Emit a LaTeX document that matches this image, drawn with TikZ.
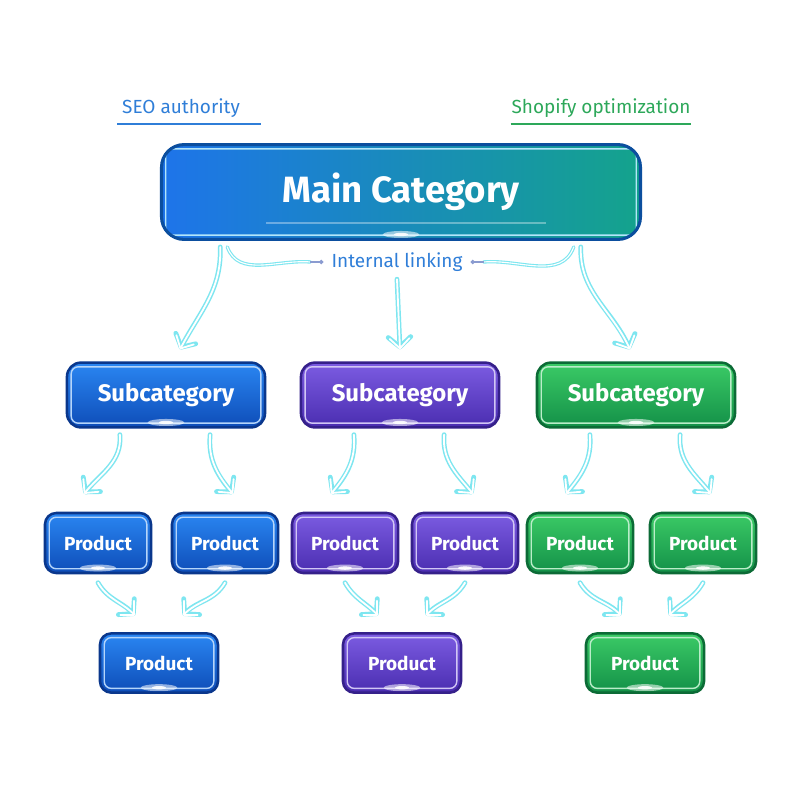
\documentclass[tikz,border=0pt]{standalone}
\usepackage{fontspec}
\setmainfont{Fira Sans}
\usepackage{tikz}
\usetikzlibrary{arrows.meta,positioning,calc}
\definecolor{seoBlue}{HTML}{2F7ED8}
\definecolor{shopGreen}{HTML}{2DA85A}
\definecolor{linkCyan}{HTML}{7EE6F0}
\definecolor{linkGrey}{HTML}{8A9BD0}
\definecolor{blueTop}{HTML}{2A86F2}
\definecolor{blueBot}{HTML}{0E4DB8}
\definecolor{blueEdge}{HTML}{0A378C}
\definecolor{purpTop}{HTML}{7C5CE2}
\definecolor{purpBot}{HTML}{4A2DB0}
\definecolor{purpEdge}{HTML}{35208A}
\definecolor{greenTop}{HTML}{3BCB66}
\definecolor{greenBot}{HTML}{139048}
\definecolor{greenEdge}{HTML}{0C6B36}
\definecolor{mainLeft}{HTML}{1E74EA}
\definecolor{mainRight}{HTML}{14A38C}
\definecolor{mainEdge}{HTML}{0B4E9E}

\tikzset{
  boxdeco/.style={path picture={
    \draw[#1, line width=1pt, rounded corners=5pt]
      ([shift={(3pt,3pt)}]path picture bounding box.south west) rectangle
      ([shift={(-3pt,-3pt)}]path picture bounding box.north east);
    \fill[white, opacity=0.55] ([yshift=3.5pt]path picture bounding box.south) ellipse (13pt and 2.5pt);
    \fill[white, opacity=0.9] ([yshift=3.5pt]path picture bounding box.south) ellipse (5pt and 1.2pt);
  }},
  box/.style={rounded corners=8pt, line width=1.8pt, text=white, font=\bfseries, align=center},
  bluebox/.style={box, draw=blueEdge, top color=blueTop, bottom color=blueBot, boxdeco=blueTop!35!white},
  purpbox/.style={box, draw=purpEdge, top color=purpTop, bottom color=purpBot, boxdeco=purpTop!35!white},
  greenbox/.style={box, draw=greenEdge, top color=greenTop, bottom color=greenBot, boxdeco=greenTop!35!white},
  subbox/.style={minimum width=4.95cm, minimum height=1.62cm, font=\fontsize{17}{20}\selectfont\bfseries, rounded corners=10pt},
  prodbox/.style={minimum width=2.65cm, minimum height=1.5cm, font=\fontsize{13.5}{16}\selectfont\bfseries},
  lowbox/.style={minimum width=2.95cm, minimum height=1.48cm, font=\fontsize{13.5}{16}\selectfont\bfseries},
  link/.style={draw=linkCyan, line width=3.4pt, line cap=round, -{Straight Barb[length=7pt,width=16pt,round]},
    postaction={draw=white, line width=1.3pt, -{Straight Barb[length=7pt,width=14pt,round]}}},
  sidelink/.style={draw=linkCyan, line width=2.4pt, line cap=round,
    postaction={draw=white, line width=0.8pt}},
}

\begin{document}
\begin{tikzpicture}[x=0.025cm, y=-0.025cm]
\useasboundingbox[fill=white] (0,0) rectangle (800,800);

% top labels
\node[text=seoBlue, font=\fontsize{13.5}{16}\selectfont] (seo) at (181,108) {SEO authority};
\node[text=shopGreen, font=\fontsize{13.5}{16}\selectfont] (shop) at (601,108) {Shopify optimization};
\draw[seoBlue, line width=1.2pt] ([yshift=-1pt]seo.south west) -- ([xshift=0.4cm,yshift=-1pt]seo.south east);
\draw[shopGreen, line width=1.2pt] ([xshift=0.1cm,yshift=-1pt]shop.south west) -- ([xshift=-0.1cm,yshift=-1pt]shop.south east);

% main node
\node[box, draw=mainEdge, left color=mainLeft, right color=mainRight, boxdeco=cyan!30!white,
  minimum width=11.97cm, minimum height=2.37cm, rounded corners=16pt, line width=2.2pt,
  font=\fontsize{26}{30}\selectfont\bfseries] (main) at (401,192) {Main Category};
\draw[white, opacity=0.35, line width=0.8pt] ($(main.south west)!0.22!(main.south east)+(0,-18)$) -- ($(main.south west)!0.8!(main.south east)+(0,-18)$);
\node[text=seoBlue, font=\fontsize{13.5}{16}\selectfont] (linking) at (397,262) {Internal linking};

% subcategories
\node[bluebox, subbox] (subA) at (166,395) {Subcategory};
\node[purpbox, subbox] (subB) at (400,395) {Subcategory};
\node[greenbox, subbox] (subC) at (636,395) {Subcategory};

% products
\node[bluebox, prodbox] (pA1) at (98,543) {Product};
\node[bluebox, prodbox] (pA2) at (225,543) {Product};
\node[purpbox, prodbox] (pB1) at (345,543) {Product};
\node[purpbox, prodbox] (pB2) at (465,543) {Product};
\node[greenbox, prodbox] (pC1) at (580,543) {Product};
\node[greenbox, prodbox] (pC2) at (703,543) {Product};
\node[bluebox, lowbox] (pA3) at (159,663) {Product};
\node[purpbox, lowbox] (pB3) at (402,663) {Product};
\node[greenbox, lowbox] (pC3) at (645,663) {Product};

% main -> subcategories
\coordinate (mainL) at ($(main.south west)!0.125!(main.south east)+(0,6)$);
\coordinate (mainR) at ($(main.south west)!0.873!(main.south east)+(0,6)$);
\draw[link] (mainL) to[out=-88,in=62] ([xshift=0.35cm,yshift=0.3cm]subA.north);
\draw[link] ([yshift=-2pt]linking.south) -- ([yshift=0.3cm]subB.north);
\draw[link] (mainR) to[out=-92,in=115] ([xshift=-0.15cm,yshift=0.3cm]subC.north);
\draw[sidelink] ([xshift=5]mainL) to[out=-70,in=175] ([xshift=-0.4cm]linking.west);
\draw[linkGrey, line width=0.8pt, -{Circle[length=3pt]}] ([xshift=-0.42cm]linking.west) -- ([xshift=-0.08cm]linking.west);
\draw[sidelink] ([xshift=-5]mainR) to[out=-110,in=5] ([xshift=0.4cm]linking.east);
\draw[linkGrey, line width=0.8pt, -{Circle[length=3pt]}] ([xshift=0.42cm]linking.east) -- ([xshift=0.08cm]linking.east);

% subcategories -> products
\foreach \g in {A,B,C}{
  \draw[link] ($(sub\g.south west)!0.27!(sub\g.south east)+(0,6)$) to[out=-85,in=50] ([xshift=-0.35cm,yshift=0.45cm]p\g1.north);
  \draw[link] ($(sub\g.south west)!0.72!(sub\g.south east)+(0,6)$) to[out=-95,in=130] ([xshift=0.2cm,yshift=0.45cm]p\g2.north);
  \draw[link] ([yshift=-6]p\g1.south) to[out=-60,in=135] ([xshift=-0.6cm,yshift=0.42cm]p\g3.north);
  \draw[link] ([yshift=-6]p\g2.south) to[out=-120,in=45] ([xshift=0.6cm,yshift=0.42cm]p\g3.north);
}
\end{tikzpicture}
\end{document}
